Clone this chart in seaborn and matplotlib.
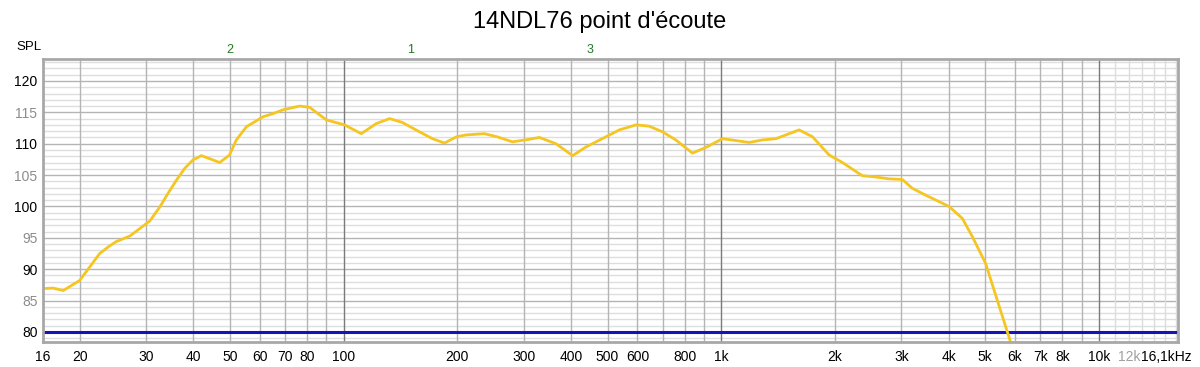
import matplotlib
matplotlib.use("Agg")
import matplotlib.pyplot as plt
import matplotlib.transforms as mtransforms
import seaborn as sns
import pandas as pd

# ---- data ----
freq_hz = [16, 17, 18.1, 20, 21.3, 22.6, 24.0, 25, 27.2, 28.9, 30.7, 32.6, 34.3, 36.1,
           38.0, 39.9, 42, 44.7, 47, 49.9, 52.0, 55.3, 58.2, 61.2, 65.1, 69.1, 76.5,
           81.3, 86.4, 90, 100.6, 111.4, 122, 132.4, 143, 158.8, 172, 185, 199, 211,
           236, 255, 280, 310, 330, 365, 404, 439, 495, 537, 595, 644, 699, 758, 839,
           910, 1008, 1186, 1285, 1395, 1483, 1608, 1745, 1931, 2094, 2364, 2565,
           2782, 3018, 3205, 3479, 4011, 4349, 4623, 5015, 5380, 5780, 5900]
spl_db = [86.9, 87.0, 86.6, 88.2, 90.4, 92.5, 93.7, 94.4, 95.3, 96.5, 97.7, 99.9, 102.1,
          104.2, 106.1, 107.4, 108.1, 107.5, 107.0, 108.2, 110.6, 112.7, 113.5, 114.3,
          114.8, 115.4, 116.0, 115.8, 114.6, 113.8, 113.0, 111.6, 113.2, 114.0, 113.4,
          111.9, 110.8, 110.1, 111.1, 111.4, 111.6, 111.1, 110.3, 110.7, 111.0, 110.0,
          108.1, 109.5, 111.1, 112.2, 113.0, 112.8, 111.9, 110.6, 108.5, 109.4, 110.8,
          110.2, 110.6, 110.8, 111.4, 112.2, 111.1, 108.2, 107.0, 104.9, 104.7, 104.4,
          104.3, 102.9, 101.8, 100.0, 98.1, 95.2, 90.9, 85.1, 79.2, 77.5]
ref_freq_hz = [16, 16100]
ref_spl_db = [80, 80]

x_ticks = [16, 20, 30, 40, 50, 60, 70, 80, 100, 200, 300, 400, 500, 600, 800,
           1000, 2000, 3000, 4000, 5000, 6000, 7000, 8000, 10000, 12000, 16100]
x_labels = ["16", "20", "30", "40", "50", "60", "70", "80", "100", "200", "300",
            "400", "500", "600", "800", "1k", "2k", "3k", "4k", "5k", "6k", "7k",
            "8k", "10k", "12k", "16,1kHz"]
y_ticks = [80, 85, 90, 95, 100, 105, 110, 115, 120]
marker_freq = [50, 150, 450]
marker_text = ["2", "1", "3"]
title = "14NDL76 point d'écoute"

sns.set_theme(style="white")
plt.rcParams["font.family"] = ["Liberation Sans", "DejaVu Sans"]

fig = plt.figure(figsize=(12, 3.67), dpi=100)
ax = fig.add_axes([43/1200, 1 - 342/367, (1178-43)/1200, (342-59)/367])
ax.set_xscale("log")
xmin, xmax = 16, 16200
ymin, ymax = 78.4, 123.5
ax.set_xlim(xmin, xmax)
ax.set_ylim(ymin, ymax)

# grid
for v in range(79, 124):
    major = (v % 5 == 0)
    ax.axhline(v, color="#b4b4b4" if major else "#dedede", lw=1.0, zorder=1)
grid_x = []
for dec in [10, 100, 1000]:
    for m in range(2, 10):
        grid_x.append(m * dec)
for f in grid_x:
    if f < xmin:
        continue
    ax.axvline(f, color="#b4b4b4", lw=1.0, zorder=1)
for f in [100, 1000, 10000]:
    ax.axvline(f, color="#7a7a7a", lw=1.0, zorder=1.5)
for f in [11000, 12000, 13000, 14000, 15000, 16000]:
    ax.axvline(f, color="#dcdcdc", lw=1.0, zorder=1)

df = pd.DataFrame({"freq": freq_hz, "spl": spl_db})
ref = pd.DataFrame({"freq": ref_freq_hz, "spl": ref_spl_db})
sns.lineplot(data=ref, x="freq", y="spl", ax=ax, color="#1414b4", lw=2.2, zorder=3)
sns.lineplot(data=df, x="freq", y="spl", ax=ax, color="#f5c622", lw=2.0, zorder=4)

ax.set_xlabel("")
ax.set_ylabel("")
ax.xaxis.set_minor_locator(matplotlib.ticker.NullLocator())
ax.set_xticks(x_ticks)
ax.set_xticklabels(x_labels)
ax.set_yticks(y_ticks)
ax.set_yticklabels([str(v) for v in y_ticks])
ax.tick_params(axis="both", length=0, labelsize=10, colors="black")
ax.tick_params(axis="x", pad=6)
ax.tick_params(axis="y", pad=4)
for lab, v in zip(ax.get_yticklabels(), y_ticks):
    lab.set_color("black" if v % 10 == 0 else "#8c8c8c")
for lab, t in zip(ax.get_xticklabels(), x_labels):
    if t == "12k":
        lab.set_color("#a0a0a0")
    if t == "16,1kHz":
        lab.set_transform(lab.get_transform() +
                          mtransforms.ScaledTranslation(-0.11, 0, fig.dpi_scale_trans))

for s in ax.spines.values():
    s.set_color("#a8a8a8")
    s.set_linewidth(2.0)
    s.set_zorder(5)

ax.text(-0.023, 1.02, "SPL", transform=ax.transAxes, fontsize=9.5,
        ha="left", va="bottom", color="black")
for f, t in zip(marker_freq, marker_text):
    ax.text(f, 1.01, t, transform=ax.get_xaxis_transform(), fontsize=9,
            color="#1e7a1e", ha="center", va="bottom")

fig.text(0.5, 1 - 22/367, title, ha="center", va="center", fontsize=17, color="black")

fig.savefig("out.png", dpi=100, facecolor="white")
